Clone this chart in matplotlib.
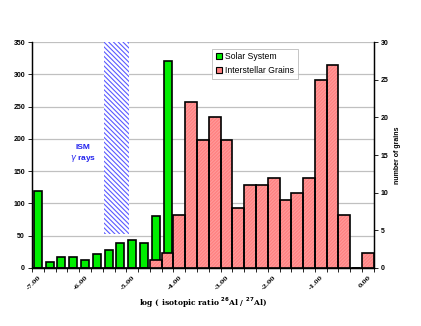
import matplotlib.pyplot as plt
import matplotlib.patches as mpatches
import numpy as np

# bin centres of log(26Al/27Al), step 0.25
log_bins = np.arange(-7.0, 0.01, 0.25)
tick_labels = ['-7.00', '-6.00', '-5.00', '-4.00', '-3.00', '-2.00', '-1.00', '0.00']

solar = [120, 10, 17, 17, 12, 22, 28, 39, 44, 38, 81, 320,
         0, 0, 0, 0, 0, 0, 0, 0, 0, 0, 0, 0, 0, 0, 0, 0, 0]
grains = [0, 0, 0, 0, 0, 0, 0, 0, 0, 0, 1, 2,
          7, 22, 17, 20, 17, 8, 11, 11, 12, 9, 10, 12, 25, 27, 7, 0, 2]

# ISM gamma ray range (log units) and lower end on left axis
ism_lo, ism_hi, ism_bottom = -5.6, -5.07, 53

x = np.arange(len(log_bins))

fig = plt.figure(figsize=(4.21, 3.26), dpi=100)
ax = fig.add_axes([0.076, 0.178, 0.812, 0.693])
ax2 = ax.twinx()

# grid
ax.set_ylim(0, 350)
ax.set_yticks(range(0, 351, 50))
ax.yaxis.grid(True, color='#c0c0c0', linewidth=0.9)
ax.set_axisbelow(True)

# ISM band
to_idx = lambda v: (v - log_bins[0]) / 0.25
plt.rcParams['hatch.linewidth'] = 0.8
ax.fill_between([to_idx(ism_lo), to_idx(ism_hi)], ism_bottom, 350,
                facecolor='white', edgecolor='#5a5aff', hatch='\\' * 7, linewidth=0)
ax.text(3.8, 187, 'ISM', color='#2222ee', fontsize=6, fontweight='bold',
        ha='center', va='center', family='Liberation Sans')
ax.text(3.8, 169, '$\\gamma$ rays', color='#2222ee', fontsize=6, fontweight='bold',
        ha='center', va='center', family='Liberation Sans')

# solar system bars
ax.bar(x, solar, width=0.68, color='#00ee00', edgecolor='black', linewidth=1.2,
       label='Solar System')

# interstellar grain bars (faintly hatched pink, then outline)
ax2.bar(x, grains, width=1.0, color='#ff8080', edgecolor='#ff9a9a', hatch='/' * 10,
        linewidth=0)
ax2.bar(x, grains, width=1.0, fill=False, edgecolor='black', linewidth=1.2)
ax2.set_ylim(0, 30)
ax2.set_yticks(range(0, 31, 5))

ax.set_xlim(-0.5, len(x) - 0.5)
ax.set_xticks(x[::4])
ax.set_xticklabels(tick_labels, rotation=45, ha='right', rotation_mode='anchor',
                   fontsize=4.5, fontweight='bold', family='DejaVu Serif')
ax.set_xticks(np.arange(-0.5, len(x), 1), minor=True)
ax.tick_params(axis='x', which='major', length=0, pad=5)
ax.tick_params(axis='x', which='minor', length=3, width=0.6)
ax.tick_params(axis='y', length=3, width=0.6, pad=2)
ax2.tick_params(axis='y', length=3, width=0.6, pad=2)
for lab in ax.get_yticklabels() + ax2.get_yticklabels():
    lab.set_fontsize(5)
    lab.set_fontweight('bold')
    lab.set_family('Liberation Sans')

for a in (ax, ax2):
    a.spines['top'].set_visible(False)
    a.spines['left'].set_linewidth(0.9)
    a.spines['right'].set_linewidth(0.9)
    a.spines['bottom'].set_linewidth(0.9)

ax.set_xlabel('log ( isotopic ratio $^{\\mathbf{26}}$Al / $^{\\mathbf{27}}$Al)',
              fontsize=5.5, fontweight='bold', family='DejaVu Serif', labelpad=3)
ax2.set_ylabel('number of grains', fontsize=5, fontweight='bold',
               family='Liberation Sans', labelpad=4)

# legend
h1 = mpatches.Patch(facecolor='#00ee00', edgecolor='black', linewidth=0.8, label='Solar System')
h2 = mpatches.Patch(facecolor='#ff8080', edgecolor='black', linewidth=0.8, label='Interstellar Grains')
leg = ax2.legend(handles=[h1, h2], loc='upper left', bbox_to_anchor=(0.515, 0.99),
                 handlelength=0.7, handleheight=0.7, handletextpad=0.3,
                 fancybox=False, edgecolor='#aaaaaa', borderpad=0.45, labelspacing=0.5,
                 prop={'family': 'Liberation Sans', 'size': 6.2})
leg.get_frame().set_linewidth(0.6)

fig.savefig('out.png', dpi=100)
